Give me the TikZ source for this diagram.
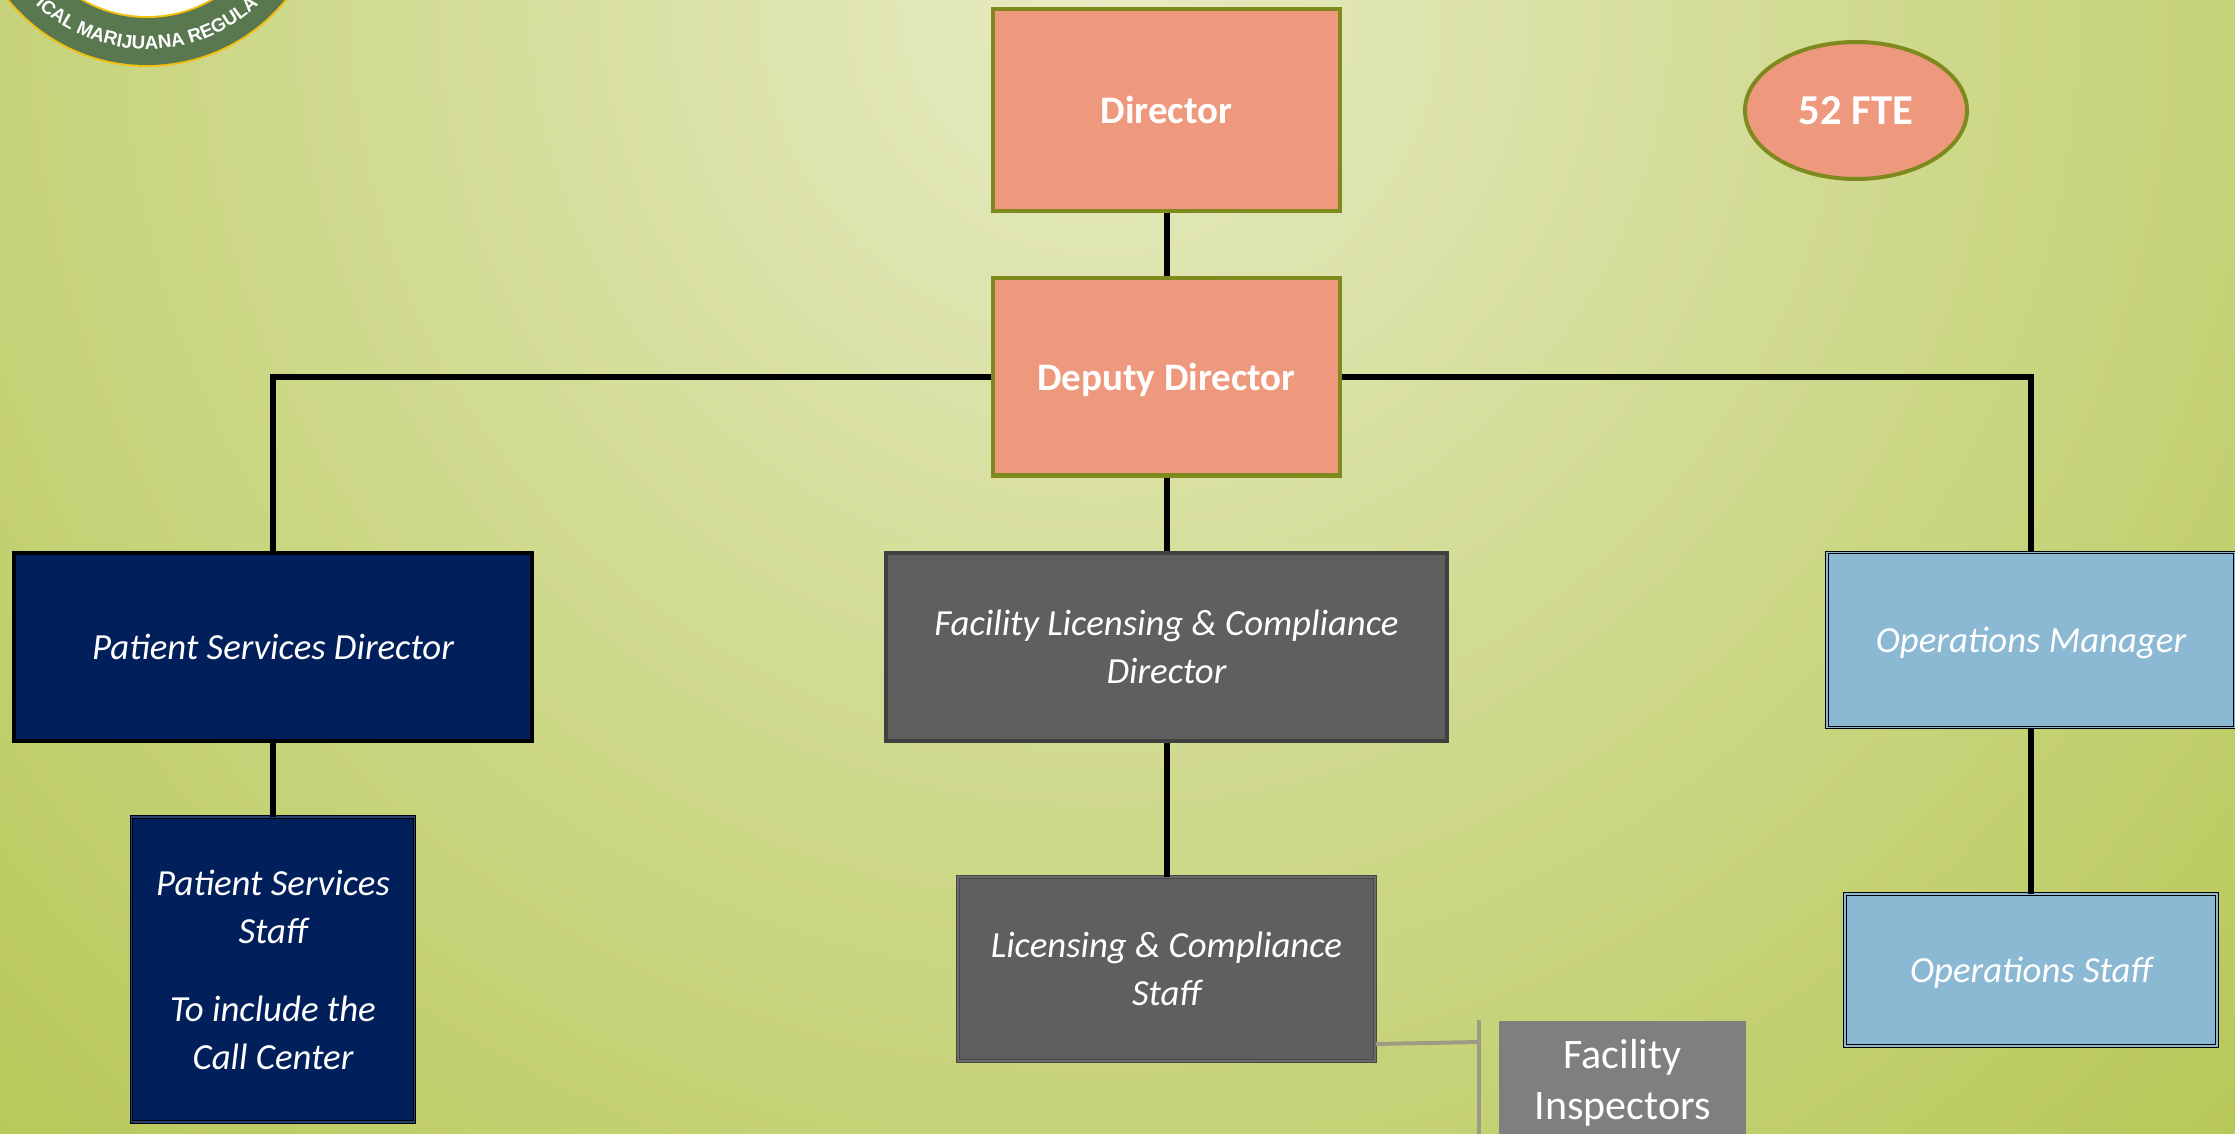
\documentclass[tikz,border=0pt]{standalone}
\usepackage{fontspec}
\setmainfont{Carlito}
\newfontfamily\logofont{Liberation Sans}
\usetikzlibrary{decorations.text}
\usetikzlibrary{shapes.geometric}

\definecolor{bglight}{HTML}{E7EBC3}
\definecolor{bgdark}{HTML}{ABBE3A}
\definecolor{salmon}{HTML}{EE997D}
\definecolor{olive}{HTML}{7F8A1E}
\definecolor{navy}{HTML}{001F5B}
\definecolor{slate}{HTML}{5F5F5F}
\definecolor{skyblue}{HTML}{8BB8D3}
\definecolor{inspgrey}{HTML}{7F7F7F}
\definecolor{bracketgrey}{HTML}{9C9C84}
\definecolor{logogreen}{HTML}{5A7850}
\definecolor{logogold}{HTML}{F2BE10}

\pgfdeclareradialshading{bgglow}{\pgfpoint{0bp}{0bp}}{color(0bp)=(bglight); color(31bp)=(bgdark); color(50bp)=(bgdark)}

\tikzset{
    boxtext/.style={text=white, align=center, font=\fontsize{18.4}{24}\selectfont\itshape},
    topbox/.style={draw=olive, fill=salmon, line width=2pt, text=white, align=center, text depth=0pt, font=\fontsize{19.5}{24}\selectfont\bfseries},
    navybox/.style={boxtext, draw=black, fill=navy, line width=2pt},
    navystaff/.style={boxtext, draw=black, double=navy!85!white, double distance=.8pt, line width=.5pt, fill=navy},
    slatebox/.style={boxtext, draw=black!75, fill=slate, line width=2pt},
    slatestaff/.style={boxtext, draw=black!72, double=black!58, double distance=.8pt, line width=.5pt, fill=slate},
    skybox/.style={boxtext, draw=black, double=skyblue, double distance=.8pt, line width=.5pt, fill=skyblue, text depth=0pt},
    link/.style={draw=black, line width=3pt},
    bracket/.style={draw=bracketgrey, line width=2pt}
}

\begin{document}
\begin{tikzpicture}[x=.5pt, y=-.5pt]
    \useasboundingbox (0,0) rectangle (2235,1134);

    % Background glow
    \begin{scope}
        \clip (0,0) rectangle (2235,1134);
        \path[shading=bgglow] (1100,0) circle (1650);
    \end{scope}

    % Seal in the corner
    \coordinate (seal) at (147,-113);
    \fill[logogold] (seal) circle (180);
    \fill[logogreen] (seal) circle (178);
    \fill[logogold] (seal) circle (131);
    \fill[white] (seal) circle (129);
    \path[decorate, decoration={text along path, text align=center,
        text={|\logofont\fontsize{9.4}{12}\selectfont\bfseries\color{white}|ICAL MARIJUANA REGULA}}]
        (seal) ++(155:162) arc (155:25:162);

    % Top of the chart
    \node[topbox, minimum width=173.5pt, minimum height=101pt] (director) at (1166.5,110) {Director};
    \node[topbox, minimum width=173.5pt, minimum height=98.5pt] (deputy) at (1166.5,377) {Deputy Director};
    \node[topbox, ellipse, minimum width=111pt, minimum height=68.5pt, font=\fontsize{21.3}{24}\selectfont\bfseries] (fte) at (1856,110.5) {52 FTE};

    % Directors
    \node[navybox, minimum width=259pt, minimum height=94pt] (patientdir) at (273,647) {Patient Services Director};
    \node[slatebox, minimum width=280.5pt, minimum height=94pt] (facilitydir) at (1166.5,647) {Facility Licensing \& Compliance\\Director};
    \node[skybox, minimum width=204pt, minimum height=87.5pt] (opsmgr) at (2031,640) {Operations Manager};

    % Staff
    \node[navystaff, minimum width=141.5pt, minimum height=152.5pt] (patientstaff) at (273,969.5) {Patient Services\\Staff\\[15pt]To include the\\Call Center};
    \node[slatestaff, minimum width=208.5pt, minimum height=92pt] (lcstaff) at (1166.5,969) {Licensing \& Compliance\\Staff};
    \node[skybox, minimum width=186pt, minimum height=76pt] (opsstaff) at (2031,970) {Operations Staff};

    % Inspectors
    \node[fill=inspgrey, text=white, align=center, minimum width=123.5pt, minimum height=62pt, font=\fontsize{21}{25.5}\selectfont] (inspectors) at (1622.5,1082.5) {Facility\\Inspectors};

    % Reporting lines
    \draw[link] (director) -- (deputy);
    \draw[link] (deputy) -- (facilitydir);
    \draw[link] (deputy.west) -| (patientdir.north);
    \draw[link] (deputy.east) -| (opsmgr.north);
    \draw[link] (patientdir) -- (patientstaff);
    \draw[link] (facilitydir) -- (lcstaff);
    \draw[link] (opsmgr) -- (opsstaff);

    % Bracket beside the inspectors
    \coordinate (brtop) at (1479,1020);
    \coordinate (brbot) at (1479,1140);
    \coordinate (brjoin) at (1479,1042);
    \coordinate (brfoot) at (1376,1044);
    \draw[bracket] (brfoot) -- (brjoin);
    \draw[bracket] (brtop) -- (brbot);
\end{tikzpicture}
\end{document}
